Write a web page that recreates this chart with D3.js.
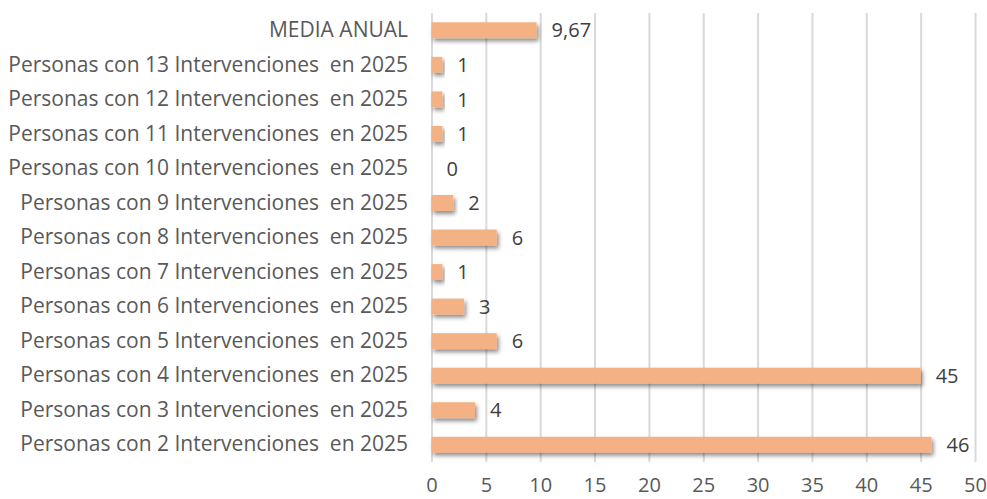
<!DOCTYPE html>
<html>
<head>
<meta charset="utf-8">
<script src="https://cdn.jsdelivr.net/npm/d3@7"></script>
<style>
html,body{margin:0;padding:0;background:#fff;}
svg{display:block;}
</style>
</head>
<body>
<svg id="chart" width="987" height="499"></svg>
<script>
const categories = [
  "MEDIA ANUAL",
  "Personas con 13 Intervenciones  en 2025",
  "Personas con 12 Intervenciones  en 2025",
  "Personas con 11 Intervenciones  en 2025",
  "Personas con 10 Intervenciones  en 2025",
  "Personas con 9 Intervenciones  en 2025",
  "Personas con 8 Intervenciones  en 2025",
  "Personas con 7 Intervenciones  en 2025",
  "Personas con 6 Intervenciones  en 2025",
  "Personas con 5 Intervenciones  en 2025",
  "Personas con 4 Intervenciones  en 2025",
  "Personas con 3 Intervenciones  en 2025",
  "Personas con 2 Intervenciones  en 2025"
];
const values = [9.67, 1, 1, 1, 0, 2, 6, 1, 3, 6, 45, 4, 46];
const xTicks = [0, 5, 10, 15, 20, 25, 30, 35, 40, 45, 50];

const data = categories.map((c, i) => ({cat: c, val: values[i]}));

const svg = d3.select("#chart");
const plot = {left: 431.5, right: 975, top: 13, bottom: 462};
const FONT = "'Open Sans', 'Liberation Sans', sans-serif";
const FS = 21;

const locale = d3.formatLocale({decimal: ",", thousands: ".", grouping: [3], currency: ["", "€"]});
const fmt = v => Number.isInteger(v) ? String(v) : locale.format(",.2f")(v);

const x = d3.scaleLinear().domain([0, 50]).range([plot.left, plot.right]);
const y = d3.scaleBand().domain(categories).range([plot.top, plot.bottom]).paddingInner(0.54).paddingOuter(0.27);

const defs = svg.append("defs");
const f = defs.append("filter").attr("id", "shadow").attr("x", "-10%").attr("y", "-50%").attr("width", "130%").attr("height", "250%");
f.append("feDropShadow").attr("dx", 2).attr("dy", 3).attr("stdDeviation", 2).attr("flood-color", "#000").attr("flood-opacity", 0.45);

// gridlines
const xAxis = d3.axisBottom(x).tickValues(xTicks).tickSize(-(plot.bottom - plot.top)).tickFormat("");
svg.append("g").attr("transform", `translate(0,${plot.bottom})`).call(xAxis)
  .call(g => g.select(".domain").remove())
  .call(g => g.selectAll(".tick line").attr("stroke", "#d9d9d9").attr("stroke-width", 2));

// tick labels
const xLab = d3.axisBottom(x).tickValues(xTicks).tickSize(0).tickPadding(0).tickFormat(d => d);
svg.append("g").attr("transform", `translate(0,${plot.bottom})`).call(xLab)
  .call(g => g.select(".domain").remove())
  .call(g => g.selectAll("text").attr("y", 30).attr("dy", null).attr("font-family", FONT).attr("font-size", 20).attr("fill", "#595959"));

// bars
svg.append("g").selectAll("rect").data(data.filter(d => d.val > 0)).join("rect")
  .attr("x", x(0))
  .attr("y", d => y(d.cat))
  .attr("width", d => x(d.val) - x(0))
  .attr("height", y.bandwidth())
  .attr("fill", "#F4B183")
  .attr("filter", "url(#shadow)");

// value labels
svg.append("g").selectAll("text").data(data).join("text")
  .attr("x", d => x(d.val) + 15)
  .attr("y", d => y(d.cat) + y.bandwidth() / 2)
  .attr("dy", "0.36em")
  .attr("font-family", FONT).attr("font-size", FS - 1).attr("fill", "#404040")
  .text(d => fmt(d.val));

// category labels
const yAxis = d3.axisLeft(y).tickSize(0).tickPadding(0);
svg.append("g").attr("transform", `translate(${408},0)`).call(yAxis)
  .call(g => g.select(".domain").remove())
  .call(g => g.selectAll("text").attr("font-family", FONT).attr("font-size", FS).attr("fill", "#595959").style("white-space", "pre"));
</script>
</body>
</html>
